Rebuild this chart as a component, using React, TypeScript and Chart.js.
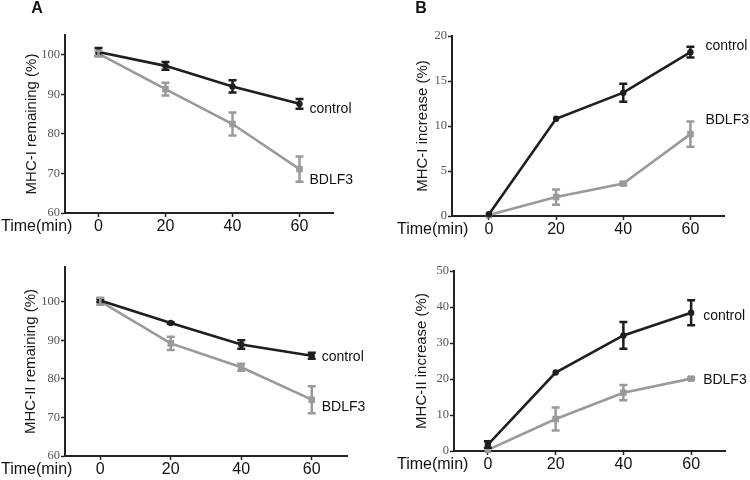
import React, { useEffect, useRef } from "react";
import { Chart, registerables } from "chart.js";

Chart.register(...registerables);

// ---- data ----
const times = [0, 20, 40, 60];
const xTickValues = [0, 20, 40, 60];
const seriesNames = ["control", "BDLF3"];

// Panel A (top-left): MHC-I remaining
const aControl = [100.7, 97.2, 92.0, 87.6];
const aControlErr = [1.0, 1.0, 1.55, 1.25];
const aBdlf3 = [100.3, 91.3, 82.5, 71.1];
const aBdlf3Err = [0.7, 1.6, 2.9, 3.2];
const aYTicks = [60, 70, 80, 90, 100];

// Panel B (top-right): MHC-I increase
const bControl = [0.2, 10.8, 13.7, 18.2];
const bControlErr = [0, 0, 1.0, 0.6];
const bBdlf3 = [0.1, 2.1, 3.6, 9.1];
const bBdlf3Err = [0, 0.85, 0.15, 1.4];
const bYTicks = [0, 5, 10, 15, 20];

// Panel C (bottom-left): MHC-II remaining
const cControl = [100.3, 94.5, 88.9, 86.0];
const cControlErr = [0.4, 0.2, 1.1, 0.8];
const cBdlf3 = [100.1, 89.2, 83.0, 74.6];
const cBdlf3Err = [0.9, 1.7, 0.9, 3.5];
const cYTicks = [60, 70, 80, 90, 100];

// Panel D (bottom-right): MHC-II increase
const dControl = [1.8, 21.8, 32.1, 38.4];
const dControlErr = [0.9, 0, 3.7, 3.5];
const dBdlf3 = [0.3, 8.9, 16.2, 20.1];
const dBdlf3Err = [0, 3.2, 2.1, 0.3];
const dYTicks = [0, 10, 20, 30, 40, 50];

const CONTROL_COLOR = "#1e1e1e";
const BDLF3_COLOR = "#9a9a9a";
const SANS = "'Liberation Sans', Arial, sans-serif";
const SERIF = "'Liberation Serif', 'Times New Roman', serif";

type Panel = {
  letter: string;
  yTitle: string;
  control: number[];
  controlErr: number[];
  bdlf3: number[];
  bdlf3Err: number[];
  yTicks: number[];
  yMin: number;
  yMax: number;
  xMin: number;
  xMax: number;
  pos: { left: number; top: number };
  area: { l: number; r: number; t: number; b: number };
  titlePad: number;
  letterPos: { x: number; y: number };
  timeX: number;
  ctrlLabel: { dx: number; dy: number };
  bdlfLabel: { dx: number; dy: number };
};

const panels: Panel[] = [
  {
    letter: "A",
    yTitle: "MHC-I remaining (%)",
    control: aControl, controlErr: aControlErr, bdlf3: aBdlf3, bdlf3Err: aBdlf3Err,
    yTicks: aYTicks, yMin: 60, yMax: 105, xMin: -10, xMax: 70,
    pos: { left: 0, top: 0 },
    area: { l: 65, r: 333, t: 35, b: 213 },
    titlePad: 23,
    letterPos: { x: 37, y: 9 },
    timeX: 1,
    ctrlLabel: { dx: 10, dy: 5 },
    bdlfLabel: { dx: 10, dy: 11 },
  },
  {
    letter: "B",
    yTitle: "MHC-I increase (%)",
    control: bControl, controlErr: bControlErr, bdlf3: bBdlf3, bdlf3Err: bBdlf3Err,
    yTicks: bYTicks, yMin: 0, yMax: 20, xMin: -11, xMax: 70,
    pos: { left: 375, top: 0 },
    area: { l: 77, r: 349, t: 36, b: 216 },
    titlePad: 39,
    letterPos: { x: 46, y: 9 },
    timeX: 22,
    ctrlLabel: { dx: 15, dy: -6 },
    bdlfLabel: { dx: 15, dy: -14 },
  },
  {
    letter: "",
    yTitle: "MHC-II remaining (%)",
    control: cControl, controlErr: cControlErr, bdlf3: cBdlf3, bdlf3Err: cBdlf3Err,
    yTicks: cYTicks, yMin: 60, yMax: 109, xMin: -10, xMax: 70,
    pos: { left: 0, top: 240 },
    area: { l: 65, r: 347, t: 27, b: 216 },
    titlePad: 22,
    letterPos: { x: 0, y: 0 },
    timeX: 1,
    ctrlLabel: { dx: 10, dy: 1 },
    bdlfLabel: { dx: 10, dy: 7 },
  },
  {
    letter: "",
    yTitle: "MHC-II increase (%)",
    control: dControl, controlErr: dControlErr, bdlf3: dBdlf3, bdlf3Err: dBdlf3Err,
    yTicks: dYTicks, yMin: 0, yMax: 50, xMin: -10, xMax: 70,
    pos: { left: 375, top: 240 },
    area: { l: 79, r: 350, t: 31, b: 211 },
    titlePad: 38,
    letterPos: { x: 0, y: 0 },
    timeX: 22,
    ctrlLabel: { dx: 12, dy: 3 },
    bdlfLabel: { dx: 12, dy: 2 },
  },
];

const decorPlugin = {
  id: "panelDecor",
  afterDatasetsDraw(chart: any, _args: any, opts: any) {
    const { ctx, chartArea, scales } = chart;
    const xs = scales.x;
    const ys = scales.y;
    ctx.save();
    // error bars
    chart.data.datasets.forEach((ds: any) => {
      const errs: number[] = ds.errorBars || [];
      ctx.strokeStyle = ds.borderColor;
      ctx.lineWidth = 2.5;
      ds.data.forEach((p: any, i: number) => {
        const e = errs[i];
        if (!e) return;
        const x = xs.getPixelForValue(p.x);
        const y1 = ys.getPixelForValue(p.y - e);
        const y2 = ys.getPixelForValue(p.y + e);
        ctx.beginPath();
        ctx.moveTo(x, y1);
        ctx.lineTo(x, y2);
        ctx.moveTo(x - 4, y1);
        ctx.lineTo(x + 4, y1);
        ctx.moveTo(x - 4, y2);
        ctx.lineTo(x + 4, y2);
        ctx.stroke();
      });
    });
    // series labels
    ctx.fillStyle = "#111";
    ctx.font = `14px ${SANS}`;
    ctx.textAlign = "left";
    ctx.textBaseline = "middle";
    chart.data.datasets.forEach((ds: any, i: number) => {
      const last = ds.data[ds.data.length - 1];
      const off = i === 0 ? opts.ctrlLabel : opts.bdlfLabel;
      ctx.fillText(ds.label, xs.getPixelForValue(last.x) + off.dx, ys.getPixelForValue(last.y) + off.dy);
    });
    // Time(min)
    ctx.font = `16px ${SANS}`;
    ctx.fillText("Time(min)", opts.timeX, chartArea.bottom + 14);
    // panel letter
    if (opts.letter) {
      ctx.font = `bold 16px ${SANS}`;
      ctx.textAlign = "center";
      ctx.fillText(opts.letter, opts.letterPos.x, opts.letterPos.y);
    }
    ctx.restore();
  },
};

function PanelChart({ p }: { p: Panel }) {
  const ref = useRef<HTMLCanvasElement | null>(null);
  useEffect(() => {
    if (!ref.current) return;
    const W = 375;
    const H = 240;
    const chart = new Chart(ref.current, {
      type: "line",
      data: {
        datasets: [
          {
            label: seriesNames[0],
            data: times.map((t, i) => ({ x: t, y: p.control[i] })),
            errorBars: p.controlErr,
            borderColor: CONTROL_COLOR,
            backgroundColor: CONTROL_COLOR,
            borderWidth: 2.6,
            pointStyle: "circle",
            pointRadius: 3.2,
            pointBorderWidth: 0,
            tension: 0,
            clip: false,
          } as any,
          {
            label: seriesNames[1],
            data: times.map((t, i) => ({ x: t, y: p.bdlf3[i] })),
            errorBars: p.bdlf3Err,
            borderColor: BDLF3_COLOR,
            backgroundColor: BDLF3_COLOR,
            borderWidth: 2.6,
            pointStyle: "rect",
            pointRadius: 4.6,
            pointBorderWidth: 0,
            tension: 0,
            clip: false,
          } as any,
        ],
      },
      options: {
        responsive: false,
        animation: false,
        devicePixelRatio: 1,
        layout: {
          padding: { left: 0, top: p.area.t, right: W - p.area.r, bottom: 0 },
        },
        plugins: {
          legend: { display: false },
          tooltip: { enabled: false },
          panelDecor: {
            letter: p.letter,
            letterPos: p.letterPos,
            timeX: p.timeX,
            ctrlLabel: p.ctrlLabel,
            bdlfLabel: p.bdlfLabel,
          },
        } as any,
        scales: {
          x: {
            type: "linear",
            min: p.xMin,
            max: p.xMax,
            afterBuildTicks: (s: any) => {
              s.ticks = xTickValues.map((v) => ({ value: v }));
            },
            afterFit: (s: any) => {
              s.height = H - p.area.b;
            },
            grid: {
              drawOnChartArea: false,
              drawTicks: true,
              tickLength: 4,
              tickWidth: 1.5,
              tickColor: "#222",
            },
            border: { display: true, color: "#222", width: 2 },
            ticks: {
              color: "#111",
              font: { family: SANS, size: 16 },
              padding: 0,
              maxRotation: 0,
              autoSkip: false,
            },
          },
          y: {
            type: "linear",
            min: p.yMin,
            max: p.yMax,
            afterBuildTicks: (s: any) => {
              s.ticks = p.yTicks.map((v) => ({ value: v }));
            },
            afterFit: (s: any) => {
              s.width = p.area.l;
            },
            grid: {
              drawOnChartArea: false,
              drawTicks: true,
              tickLength: 4,
              tickWidth: 1.5,
              tickColor: "#222",
            },
            border: { display: true, color: "#222", width: 2 },
            ticks: {
              color: "#555",
              font: { family: SERIF, size: 12.5 },
              padding: 1,
              autoSkip: false,
            },
            title: {
              display: true,
              text: p.yTitle,
              color: "#1a1a1a",
              font: { family: SANS, size: 15 },
              padding: { top: p.titlePad, bottom: 0 },
            },
          },
        },
      },
      plugins: [decorPlugin],
    } as any);
    return () => chart.destroy();
  }, [p]);
  return (
    <div style={{ position: "absolute", left: p.pos.left, top: p.pos.top, width: 375, height: 240 }}>
      <canvas ref={ref} width={375} height={240} style={{ width: 375, height: 240, display: "block" }} />
    </div>
  );
}

export default function App() {
  return (
    <div
      style={{
        position: "absolute",
        left: 0,
        top: 0,
        width: 750,
        height: 480,
        background: "#fff",
        overflow: "hidden",
      }}
    >
      {panels.map((p, i) => (
        <PanelChart key={i} p={p} />
      ))}
    </div>
  );
}
